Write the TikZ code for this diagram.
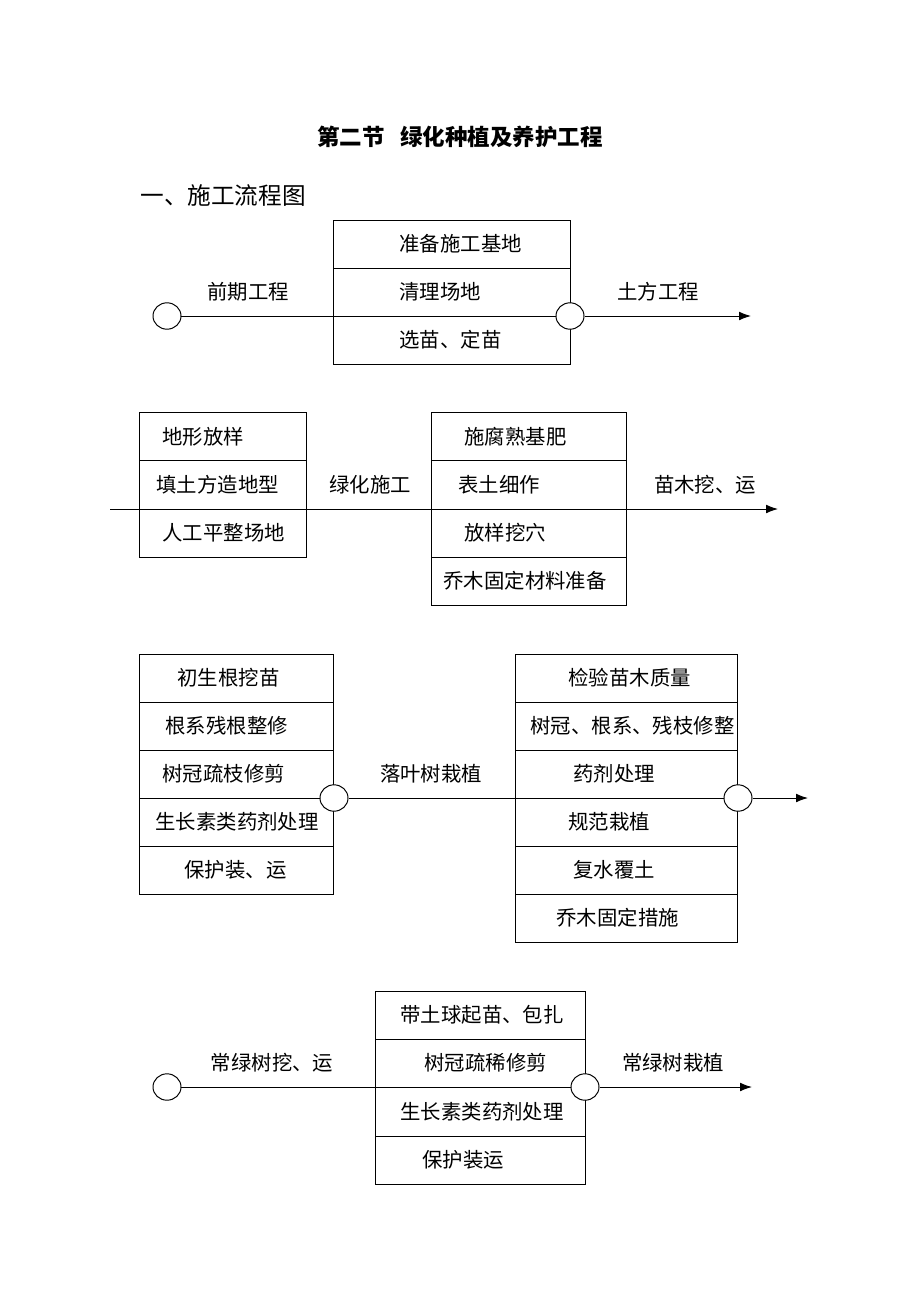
\documentclass[tikz,border=0pt]{standalone}
\usepackage{fontspec}
\setmainfont{Noto Sans CJK SC}
\usetikzlibrary{arrows.meta,shapes.geometric}
\tikzset{>={Latex[length=3mm,width=2.2mm]}}

\begin{document}
\begin{tikzpicture}[x=0.025cm, y=-0.025cm, line width=0.7pt,
		font=\fontsize{14.5pt}{17pt}\selectfont,
		cell/.style={anchor=west, inner sep=0pt},
		lbl/.style={inner sep=0pt},
		joint/.style={ellipse, draw, fill=white, inner sep=0pt, minimum width=0.7cm, minimum height=0.66cm}]
		\useasboundingbox (0,0) rectangle (920,1302);

		% headings
		\node[lbl, font=\fontsize{16pt}{19pt}\selectfont\bfseries] (title) at (460,137) {第二节\hspace{0.7em}绿化种植及养护工程};
		\node[cell, font=\fontsize{16.8pt}{20pt}\selectfont] (heading) at (140,196) {一、施工流程图};

		% stage 1: preparation
		\draw (333,220) rectangle (570,364);
		\draw (333,268) -- (570,268);
		\draw (333,316) -- (570,316);
		\node[cell] (prep1) at (399,244) {准备施工基地};
		\node[cell] (prep2) at (399,292) {清理场地};
		\node[cell] (prep3) at (399,340) {选苗、定苗};
		\node[joint] (s1) at (167,316) {};
		\node[joint] (e1) at (570,316) {};
		\coordinate (t1) at (751,316);
		\draw (s1) -- (e1);
		\draw[->] (e1) -- (t1);
		\node[lbl] (early) at (248,292) {前期工程};
		\node[lbl] (earth) at (658,292) {土方工程};

		% stage 2: earthwork and greening
		\draw (139,412) rectangle (306,557);
		\draw (139,460) -- (306,460);
		\draw (139,509) -- (306,509);
		\node[cell] (land1) at (162,437) {地形放样};
		\node[cell] (land2) at (156,485) {填土方造地型};
		\node[cell] (land3) at (162,533) {人工平整场地};
		\draw (431,412) rectangle (626,605);
		\draw (431,460) -- (626,460);
		\draw (431,509) -- (626,509);
		\draw (431,557) -- (626,557);
		\node[cell] (soil1) at (464,437) {施腐熟基肥};
		\node[cell] (soil2) at (458,485) {表土细作};
		\node[cell] (soil3) at (464,533) {放样挖穴};
		\node[cell] (soil4) at (443,581) {乔木固定材料准备};
		\coordinate (s2) at (110,509);
		\coordinate (t2) at (778,509);
		\draw[->] (s2) -- (t2);
		\node[lbl] (green) at (370,485) {绿化施工};
		\node[lbl] (dig) at (705,485) {苗木挖、运};

		% stage 3: deciduous trees
		\draw (139,654) rectangle (333,894);
		\foreach \y in {702,750,798,846}
			\draw (139,\y) -- (333,\y);
		\node[cell] (lift1) at (177,678) {初生根挖苗};
		\node[cell] (lift2) at (165,726) {根系残根整修};
		\node[cell] (lift3) at (162,774) {树冠疏枝修剪};
		\node[cell] (lift4) at (155,822) {生长素类药剂处理};
		\node[cell] (lift5) at (184,870) {保护装、运};
		\draw (515,654) rectangle (737,942);
		\foreach \y in {702,750,798,846,894}
			\draw (515,\y) -- (737,\y);
		\node[cell] (plant1) at (568,678) {检验苗木质量};
		\node[cell] (plant2) at (530,726) {树冠、根系、残枝修整};
		\node[cell] (plant3) at (573,774) {药剂处理};
		\node[cell] (plant4) at (568,822) {规范栽植};
		\node[cell] (plant5) at (573,870) {复水覆土};
		\node[cell] (plant6) at (556,918) {乔木固定措施};
		\node[joint] (s3) at (334,798) {};
		\node[joint] (e3) at (738,798) {};
		\coordinate (t3) at (808,798);
		\draw (s3) -- (e3);
		\draw[->] (e3) -- (t3);
		\node[lbl] (decid) at (431,774) {落叶树栽植};

		% stage 4: evergreen trees
		\draw (375,991) rectangle (585,1184);
		\foreach \y in {1039,1087,1136}
			\draw (375,\y) -- (585,\y);
		\node[cell] (ever1) at (400,1015) {带土球起苗、包扎};
		\node[cell] (ever2) at (424,1063) {树冠疏稀修剪};
		\node[cell] (ever3) at (400,1112) {生长素类药剂处理};
		\node[cell] (ever4) at (422,1160) {保护装运};
		\node[joint] (s4) at (167,1087) {};
		\node[joint] (e4) at (585,1087) {};
		\coordinate (t4) at (752,1087);
		\draw (s4) -- (e4);
		\draw[->] (e4) -- (t4);
		\node[lbl] (evdig) at (272,1063) {常绿树挖、运};
		\node[lbl] (evplant) at (673,1063) {常绿树栽植};
	\end{tikzpicture}
\end{document}
